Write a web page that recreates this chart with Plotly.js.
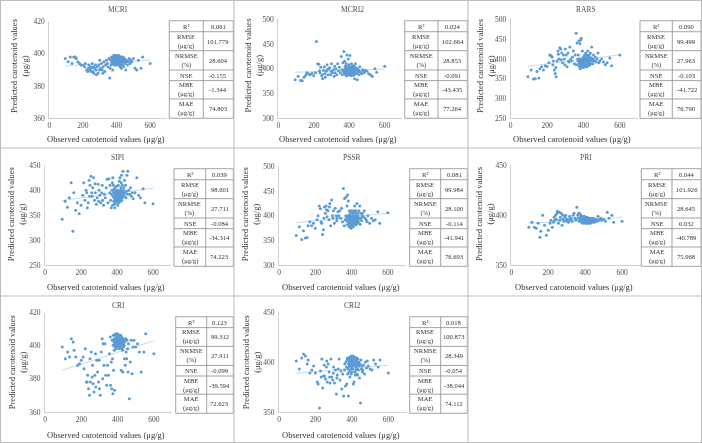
<!DOCTYPE html>
<html>
<head>
<meta charset="utf-8">
<script src="https://cdn.plot.ly/plotly-3.0.1.min.js"></script>
<style>
  html, body { margin: 0; padding: 0; background: #fff; }
  #chart { width: 702px; height: 443px; will-change: transform; transform: translateZ(0); }
</style>
</head>
<body>
<div id="chart"></div>
<script>
// Observed carotenoid content of the samples (µg/g), shared by every index
const observed = [
  95,112,125,135,145,155,160,170,180,190,
  200,210,215,222,228,232,235,240,245,248,
  250,255,260,262,265,270,275,278,280,285,
  290,295,298,300,305,310,315,318,320,325,
  330,335,340,345,350,355,360,361,365,368,
  370,372,374,375,377,378,380,381,382,383,
  384,385,386,387,388,389,390,391,392,393,
  394,395,396,397,398,399,400,401,402,403,
  404,405,406,407,408,409,410,411,412,413,
  414,415,416,417,418,419,420,421,422,423,
  424,425,426,427,428,429,430,432,433,435,
  436,438,440,442,445,447,450,452,455,458,
  460,465,470,475,480,485,490,500,510,520,
  530,545,555,600
];

// Predicted carotenoid content (µg/g) for each vegetation index
const predMCRI = [
  397,395,398,394,398,398,397,395,394,393,
  393,392,394,390,389,391,393,390,392,389,
  391,394,389,392,388,391,393,390,387,392,
  388,393,390,396,391,394,390,388,392,395,
  389,393,396,394,392,397,385,391,396,393,
  398,394,397,395,390,398,396,394,397,399,
  395,397,393,398,396,394,399,397,395,398,
  396,394,398,396,399,393,397,395,398,396,
  394,397,399,395,397,393,398,396,394,397,
  399,395,397,393,398,396,394,397,392,398,
  395,397,393,396,391,398,394,396,395,397,
  393,396,398,392,395,397,394,396,390,395,
  396,393,395,397,394,396,395,397,391,390,
  396,391,398,394
];
const predMCRI2 = [
  378,385,377,376,383,387,392,390,388,391,
  386,392,455,410,409,396,392,403,386,388,
  380,397,404,390,383,395,408,399,388,400,
  402,388,395,410,392,398,385,405,392,400,
  388,410,396,403,392,425,398,388,412,395,
  435,392,415,400,390,405,388,398,394,410,
  386,402,395,428,390,397,392,400,387,405,
  395,420,388,398,393,408,396,390,401,394,
  427,389,397,392,404,395,386,399,393,410,
  390,396,388,402,394,398,392,406,387,395,
  400,391,397,388,405,393,380,398,392,410,
  395,402,390,396,378,400,393,398,388,395,
  404,392,390,398,395,392,397,395,390,388,
  385,400,393,405
];
const predRARS = [
  355,372,349,350,368,352,375,380,372,383,
  381,390,410,408,405,385,395,372,363,378,
  355,395,420,412,400,428,425,398,415,390,
  410,400,385,425,410,380,415,395,392,430,
  400,395,405,420,388,410,465,385,440,400,
  395,410,385,445,390,380,400,438,392,375,
  395,448,388,397,452,385,393,400,380,390,
  420,395,388,402,392,385,398,378,405,390,
  385,396,410,388,395,400,382,393,415,390,
  398,386,404,392,380,395,410,388,399,393,
  420,387,400,395,383,405,390,410,392,385,
  398,415,388,403,430,395,400,388,410,397,
  395,405,392,400,415,390,395,400,392,385,
  390,402,383,410
];
const predSIPI = [
  342,378,366,385,415,318,395,360,375,353,
  370,390,415,380,400,395,365,375,420,388,
  410,428,395,388,405,425,380,413,395,372,
  385,412,378,400,390,375,395,410,380,370,
  392,385,405,422,375,423,395,410,380,365,
  392,400,415,370,425,388,410,395,378,402,
  385,372,398,380,365,390,405,383,393,375,
  398,388,380,395,408,385,378,392,388,400,
  370,395,385,410,380,392,375,398,386,418,
  390,380,425,395,385,400,378,405,390,415,
  388,430,380,398,392,410,385,395,438,400,
  392,405,388,420,395,410,385,398,430,392,
  438,400,392,405,388,395,383,395,425,390,
  385,403,375,373
];
const predPSSR = [
  360,378,352,370,355,356,380,388,380,385,
  375,392,400,420,414,388,385,362,372,395,
  418,405,420,412,398,410,392,418,425,380,
  432,400,395,410,385,415,400,390,395,408,
  400,410,395,415,388,455,380,435,392,400,
  438,390,395,420,382,442,400,388,430,395,
  385,400,392,378,410,395,388,398,380,405,
  392,385,400,375,395,388,410,382,398,390,
  395,380,405,388,400,392,378,396,385,410,
  392,400,385,420,395,383,405,390,398,388,
  410,395,382,400,390,425,395,385,405,392,
  400,388,410,395,420,383,405,395,390,400,
  405,398,410,395,392,388,400,385,395,390,
  392,408,385,406
];
const predPRI = [
  388,393,388,387,392,378,384,400,390,380,
  385,392,395,388,393,398,395,400,396,402,
  404,392,403,395,398,402,390,396,400,394,
  398,400,396,394,396,393,399,396,395,397,
  394,400,402,397,395,408,400,397,402,394,
  402,395,398,396,394,400,396,393,399,395,
  397,394,396,392,398,395,393,397,396,394,
  393,396,399,394,395,397,392,396,394,398,
  395,393,396,394,397,392,395,398,393,396,
  394,397,393,395,396,392,397,394,395,396,
  393,396,394,397,392,395,396,393,397,394,
  395,393,396,394,397,395,393,396,394,395,
  396,394,399,395,396,397,395,396,394,403,
  397,400,393,394
];
const predCRI = [
  399,392,396,393,404,402,397,393,388,389,
  391,393,386,398,378,378,382,374,370,392,
  378,396,381,388,377,372,382,395,375,391,
  384,378,391,374,370,396,404,380,401,388,
  401,382,376,388,382,395,405,376,390,374,
  403,392,371,400,406,385,402,404,397,373,
  401,406,399,403,402,407,400,404,398,403,
  405,401,406,399,403,402,407,400,404,401,
  403,406,400,405,402,398,404,406,401,403,
  399,404,402,406,400,403,385,401,405,398,
  402,404,400,403,397,384,401,404,399,403,
  400,392,402,388,404,396,392,403,398,384,
  401,368,390,403,383,399,403,399,401,396,
  384,396,407,395
];
const predCRI2 = [
  401,393,404,408,406,398,402,389,392,396,
  389,380,378,354,391,385,403,374,386,397,
  386,383,395,401,380,398,390,385,379,403,
  385,382,389,395,379,392,368,384,387,393,
  403,382,391,373,388,366,392,398,376,400,
  395,378,402,404,388,393,403,366,398,395,
  404,390,400,396,402,385,405,398,392,401,
  397,403,388,406,399,394,402,390,405,396,
  400,406,393,402,378,397,404,399,380,401,
  396,405,390,399,403,387,398,404,392,400,
  395,402,388,404,397,393,400,387,403,398,
  392,400,396,384,398,359,402,393,396,390,
  392,397,388,400,394,401,396,393,392,402,
  398,395,402,389
];

const indexNames = ['MCRI', 'MCRI2', 'RARS', 'SIPI', 'PSSR', 'PRI', 'CRI', 'CRI2'];
const predictions = [predMCRI, predMCRI2, predRARS, predSIPI, predPSSR, predPRI, predCRI, predCRI2];

// Accuracy statistics: R², RMSE, NRMSE, NSE, MBE, MAE
const statLabels = ['R²', 'RMSE<br>(μg/g)', 'NRMSE<br>(%)', 'NSE', 'MBE<br>(μg/g)', 'MAE<br>(μg/g)'];
const statsMCRI  = [0.061, 101.779, 28.604, -0.155, -1.344, 74.803];
const statsMCRI2 = [0.024, 102.664, 28.853, -0.091, -43.435, 77.264];
const statsRARS  = [0.090, 99.499, 27.963, -0.103, -41.722, 76.790];
const statsSIPI  = [0.039, 98.601, 27.711, -0.084, -34.314, 74.223];
const statsPSSR  = [0.081, 99.984, 28.100, -0.114, -41.941, 76.693];
const statsPRI   = [0.044, 101.926, 28.645, 0.032, -40.789, 75.968];
const statsCRI   = [0.123, 99.312, 27.911, -0.099, -39.594, 72.623];
const statsCRI2  = [0.018, 100.873, 28.349, -0.054, -38.044, 74.112];
const statsAll = [statsMCRI, statsMCRI2, statsRARS, statsSIPI, statsPSSR, statsPRI, statsCRI, statsCRI2];

// Y-axis ranges and tick steps
const yRanges = [[360, 420], [300, 500], [250, 500], [250, 450], [300, 500], [350, 450], [360, 420], [350, 450]];
const yDticks = [20, 50, 50, 50, 50, 50, 20, 50];
const xTicks = [0, 200, 400, 600];

// ---- page geometry (pixels) ----
const W = 702, H = 443;
const cells = [[0,0],[234,0],[468,0],[0,148],[234,148],[468,148],[0,296],[234,296]];
// plot box inside each cell: left (x=0), right (x=700), top, bottom
const plotBox = [
  [49.3, 167.0, 21.5, 118.3],
  [44.3, 168.4, 19.3, 118.3],
  [42.7, 170.0, 19.3, 118.3],
  [45.0, 171.0, 17.3, 117.3],
  [45.0, 172.0, 18.3, 117.3],
  [43.3, 172.5, 17.3, 117.3],
  [45.0, 172.0, 16.0, 116.0],
  [45.0, 172.5, 16.0, 116.0]
];
// horizontal centre of the rotated y-axis title inside each cell
const yTitleX = [19, 18.5, 17, 17.2, 17.2, 17, 17.2, 17.2];
// stats table inside each cell: left, column split, right, top, bottom
const tableBox = [
  [169.3, 203.3, 233.3, 20.7, 118.3],
  [170.7, 204.0, 233.3, 20.7, 118.3],
  [172.0, 204.3, 233.0, 20.7, 118.3],
  [174.0, 205.7, 233.3, 20.7, 118.3],
  [175.7, 206.7, 233.3, 20.7, 118.3],
  [173.3, 204.0, 233.0, 20.7, 118.3],
  [175.7, 206.7, 233.3, 20.7, 117.3],
  [175.7, 206.7, 233.3, 20.7, 117.3]
];
const rowEdges = [0, 0.113, 0.307, 0.505, 0.614, 0.802, 1];

const px = v => v / W;
const py = v => 1 - v / H;

const FONT = 'Liberation Serif';
const BLUE = '#5B9BD5';
const TEXT_DARK = '#333333';
const TEXT_GREY = '#505050';

function linearFit(xs, ys) {
  const n = xs.length;
  const mx = xs.reduce((a, b) => a + b, 0) / n;
  const my = ys.reduce((a, b) => a + b, 0) / n;
  let sxy = 0, sxx = 0;
  for (let i = 0; i < n; i++) { sxy += (xs[i] - mx) * (ys[i] - my); sxx += (xs[i] - mx) ** 2; }
  const slope = sxy / sxx;
  return { slope, intercept: my - slope * mx };
}

const traces = [];
const layout = {
  width: W, height: H,
  margin: { l: 0, r: 0, t: 0, b: 0 },
  // transparent paper: the page behind it supplies the white
  paper_bgcolor: 'rgba(0,0,0,0)',
  plot_bgcolor: 'rgba(0,0,0,0)',
  showlegend: false,
  font: { family: FONT, color: TEXT_GREY },
  shapes: [],
  annotations: []
};

indexNames.forEach((name, i) => {
  const k = i === 0 ? '' : String(i + 1);
  const [cx, cy] = cells[i];
  const [l, r, t, b] = plotBox[i];
  const ys = predictions[i];

  const fit = linearFit(observed, ys);
  const xmin = Math.min(...observed), xmax = Math.max(...observed);
  traces.push({
    type: 'scatter', mode: 'lines',
    x: [xmin, xmax],
    y: [fit.intercept + fit.slope * xmin, fit.intercept + fit.slope * xmax],
    xaxis: 'x' + k, yaxis: 'y' + k,
    line: { color: '#BDD7EE', width: 0.9 },
    hoverinfo: 'skip'
  });
  traces.push({
    type: 'scatter', mode: 'markers',
    x: observed, y: ys,
    xaxis: 'x' + k, yaxis: 'y' + k,
    marker: { color: BLUE, size: 3, symbol: 'circle' },
    hoverinfo: 'skip'
  });

  layout['xaxis' + k] = {
    domain: [px(cx + l), px(cx + r)],
    anchor: 'y' + k,
    range: [0, 700],
    tickvals: xTicks,
    ticks: '',
    showgrid: false, zeroline: false,
    showline: true, linecolor: '#d0d0d0', linewidth: 1,
    tickfont: { family: FONT, size: 7.5, color: TEXT_GREY },
    fixedrange: true
  };
  layout['yaxis' + k] = {
    domain: [py(cy + b), py(cy + t)],
    anchor: 'x' + k,
    range: yRanges[i],
    dtick: yDticks[i],
    ticks: 'outside', ticklen: 2, tickcolor: 'rgba(0,0,0,0)',
    showgrid: false, zeroline: false,
    showline: true, linecolor: '#d0d0d0', linewidth: 1,
    tickfont: { family: FONT, size: 7.5, color: TEXT_GREY },
    fixedrange: true
  };

  // panel title
  layout.annotations.push({
    text: name, xref: 'paper', yref: 'paper',
    x: px(cx + 118), y: py(cy + 9.5), xanchor: 'center', yanchor: 'middle',
    showarrow: false, font: { family: FONT, size: 7.5, color: TEXT_GREY }
  });
  // axis titles
  layout.annotations.push({
    text: 'Observed carotenoid values (μg/g)', xref: 'paper', yref: 'paper',
    x: px(cx + (l + r) / 2 - 2), y: py(cy + 138.5), xanchor: 'center', yanchor: 'middle',
    showarrow: false, font: { family: FONT, size: 8.5, color: TEXT_DARK }
  });
  layout.annotations.push({
    text: 'Predicted carotenoid values<br>(μg/g)', xref: 'paper', yref: 'paper',
    x: px(cx + yTitleX[i]), y: py(cy + 66), xanchor: 'center', yanchor: 'middle',
    textangle: -90, showarrow: false, font: { family: FONT, size: 8.5, color: TEXT_DARK }
  });

  // stats table
  const [tl, ts, tr, tt, tb] = tableBox[i];
  const x0 = cx + tl, xs = cx + ts, x1 = cx + tr;
  const y0 = cy + tt, y1 = cy + tb;
  const lineStyle = { color: '#8c8c8c', width: 0.8 };
  layout.shapes.push({ type: 'rect', xref: 'paper', yref: 'paper',
    x0: px(x0), x1: px(x1), y0: py(y0), y1: py(y1), line: lineStyle });
  layout.shapes.push({ type: 'line', xref: 'paper', yref: 'paper',
    x0: px(xs), x1: px(xs), y0: py(y0), y1: py(y1), line: lineStyle });
  for (let rIdx = 1; rIdx < rowEdges.length - 1; rIdx++) {
    const yy = y0 + rowEdges[rIdx] * (y1 - y0);
    layout.shapes.push({ type: 'line', xref: 'paper', yref: 'paper',
      x0: px(x0), x1: px(x1), y0: py(yy), y1: py(yy), line: lineStyle });
  }
  statLabels.forEach((lab, rIdx) => {
    const ym = y0 + (rowEdges[rIdx] + rowEdges[rIdx + 1]) / 2 * (y1 - y0);
    layout.annotations.push({
      text: lab, xref: 'paper', yref: 'paper',
      x: px((x0 + xs) / 2), y: py(ym), xanchor: 'center', yanchor: 'middle',
      showarrow: false, font: { family: FONT, size: 6.6, color: TEXT_DARK }
    });
    layout.annotations.push({
      text: statsAll[i][rIdx].toFixed(3), xref: 'paper', yref: 'paper',
      x: px((xs + x1) / 2), y: py(ym), xanchor: 'center', yanchor: 'middle',
      showarrow: false, font: { family: FONT, size: 6.6, color: TEXT_DARK }
    });
  });
});

// cell borders of the figure grid
const gridColor = '#bdbdbd';
[0.5, 234, 468, 701.5].forEach(xv => layout.shapes.push({
  type: 'line', xref: 'paper', yref: 'paper',
  x0: px(xv), x1: px(xv), y0: 0, y1: 1, line: { color: gridColor, width: 1 }
}));
[0.5, 148, 296, 442.5].forEach(yv => layout.shapes.push({
  type: 'line', xref: 'paper', yref: 'paper',
  x0: 0, x1: 1, y0: py(yv), y1: py(yv), line: { color: gridColor, width: 1 }
}));

Plotly.newPlot('chart', traces, layout, { staticPlot: true, displayModeBar: false });
</script>
</body>
</html>
